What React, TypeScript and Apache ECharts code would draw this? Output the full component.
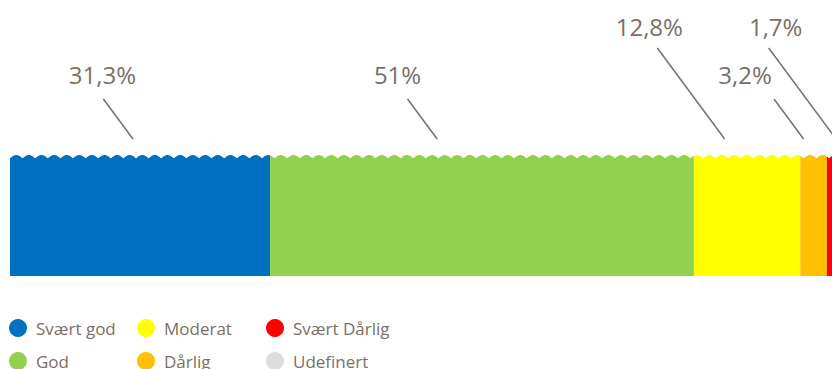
import React, { useEffect, useRef } from "react";
import * as echarts from "echarts";

const categories = ["Svært god", "God", "Moderat", "Dårlig", "Svært Dårlig", "Udefinert"];
const values = [31.3, 51, 12.8, 3.2, 1.7, 0];
const colors = ["#0070c0", "#92d050", "#ffff00", "#ffc000", "#ff0000", "#dcdcdc"];

// where each leader line meets the bar (in axis percent), which label row it uses, text shift
const labelAnchor = [14.8, 51.4, 86.0, 95.5, 99.4];
const labelTier = [0, 0, 1, 0, 1];
const labelShift = [-1, -10, -8, -29, 7];

const TEXT = "#7a6f66";
const FONT = "'Open Sans', sans-serif";

const fmt = (v: number) => String(v).replace(".", ",") + "%";

export default function App() {
  const ref = useRef<HTMLDivElement>(null);
  useEffect(() => {
    document.body.style.margin = "0";
    const chart = echarts.init(ref.current!, null, { renderer: "svg" });

    const barSeries = categories.map((name, i) => ({
      name,
      type: "bar",
      stack: "total",
      barWidth: "100%",
      data: [values[i]],
      itemStyle: { color: colors[i] },
      silent: true,
    }));

    const waveSeries = {
      type: "custom",
      name: "wave",
      clip: false,
      silent: true,
      z: 5,
      data: [[0, 0]],
      renderItem: (params: any) => {
        const cs = params.coordSys;
        const top = cs.y;
        const A = 3.3;
        const P = 12.6;
        const pts: number[][] = [[cs.x - 2, top - 8]];
        for (let x = cs.x - 2; x <= cs.x + cs.width + 2; x += 0.5) {
          const y = top + A * (1 - Math.abs(Math.sin((Math.PI * (x - cs.x)) / P)));
          pts.push([x, y]);
        }
        pts.push([cs.x + cs.width + 2, top - 8]);
        return { type: "polygon", shape: { points: pts }, style: { fill: "#ffffff" } };
      },
    };

    const labelSeries = {
      type: "custom",
      name: "labels",
      clip: false,
      silent: true,
      z: 6,
      data: labelAnchor.map((a) => [a, 0]),
      renderItem: (params: any, api: any) => {
        const i = params.dataIndex;
        const cs = params.coordSys;
        const top = cs.y;
        const p = api.coord([api.value(0), 0]);
        const endX = p[0];
        const endY = top - 16;
        const tier = labelTier[i];
        const lineTopY = tier === 0 ? top - 56 : top - 107;
        const lineTopX = endX - 0.74 * (endY - lineTopY);
        const textY = tier === 0 ? top - 81 : top - 129;
        return {
          type: "group",
          children: [
            {
              type: "line",
              shape: { x1: lineTopX, y1: lineTopY, x2: endX, y2: endY },
              style: { stroke: TEXT, lineWidth: 1.5 },
            },
            {
              type: "text",
              x: lineTopX + labelShift[i],
              y: textY,
              style: {
                text: fmt(values[i]),
                fill: TEXT,
                fontSize: 24,
                fontFamily: FONT,
                align: "center",
                verticalAlign: "middle",
              },
            },
          ],
        };
      },
    };

    const legendCol = (names: string[], left: number) => ({
      data: names,
      orient: "vertical",
      left,
      top: 314,
      icon: "circle",
      itemWidth: 18,
      itemHeight: 18,
      itemGap: 15,
      selectedMode: false,
      textStyle: { color: TEXT, fontSize: 17, fontFamily: FONT, padding: [0, 0, 0, 4] },
    });

    chart.setOption({
      animation: false,
      grid: { left: 10, right: 0, top: 155, height: 121 },
      xAxis: { type: "value", min: 0, max: 100, show: false },
      yAxis: { type: "category", data: ["bar"], show: false },
      legend: [
        legendCol([categories[0], categories[1]], 4),
        legendCol([categories[2], categories[3]], 132),
        legendCol([categories[4], categories[5]], 261),
      ],
      series: [...barSeries, waveSeries, labelSeries],
    });
    return () => chart.dispose();
  }, []);
  return (
    <div style={{ width: 832, height: 369, overflow: "hidden", position: "relative" }}>
      <div ref={ref} style={{ width: 841, height: 420 }} />
    </div>
  );
}
